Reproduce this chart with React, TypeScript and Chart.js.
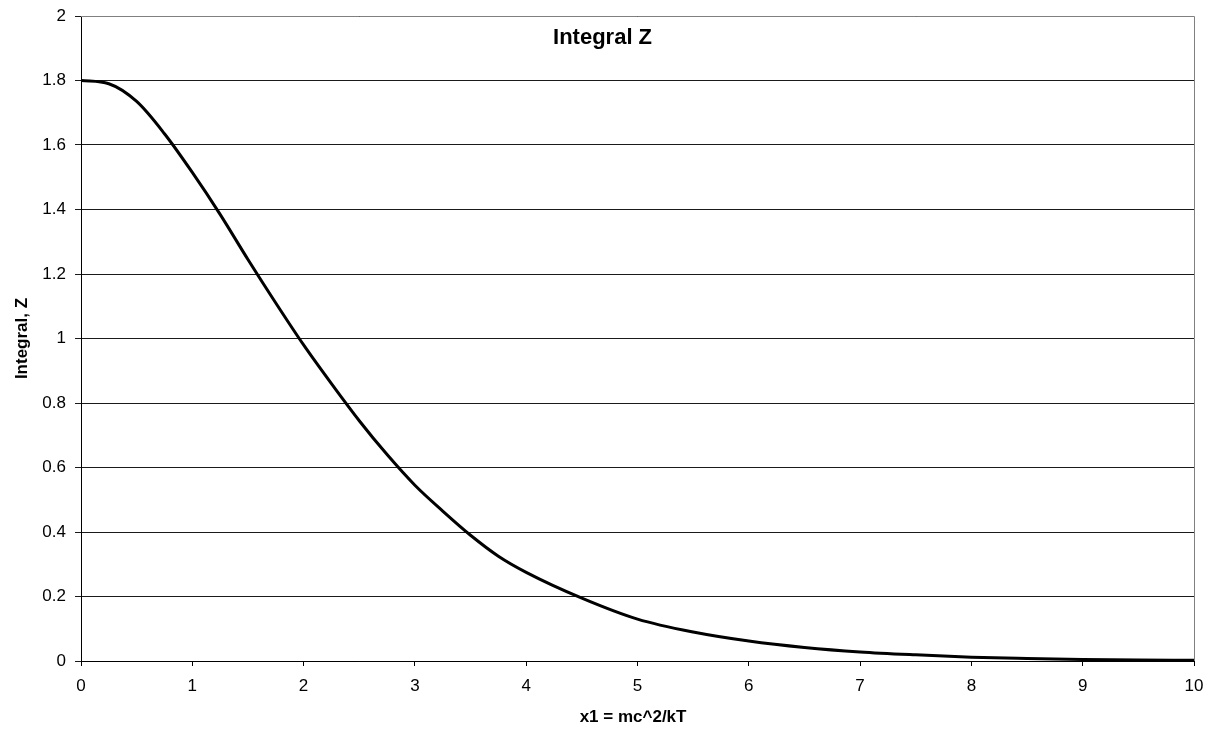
import React, { useEffect, useRef } from "react";
import { Chart, registerables } from "chart.js";

Chart.register(...registerables);

const xValues = [0, 0.25, 0.5, 0.75, 1, 1.25, 1.5, 1.75, 2, 2.25, 2.5, 2.75, 3, 3.25, 3.5, 3.75, 4, 4.5, 5, 5.5, 6, 6.5, 7, 7.5, 8, 8.5, 9, 9.5, 10];
const zValues = [1.8, 1.79, 1.735, 1.635, 1.515, 1.385, 1.245, 1.11, 0.98, 0.86, 0.745, 0.64, 0.545, 0.465, 0.39, 0.325, 0.275, 0.195, 0.13, 0.09, 0.062, 0.042, 0.028, 0.019, 0.012, 0.008, 0.005, 0.003, 0.002];
const chartTitle = "Integral Z";
const xAxisTitle = "x1 = mc^2/kT";
const yAxisTitle = "Integral, Z";

const FONT = "'Liberation Sans', Arial, sans-serif";

export default function App() {
  const ref = useRef<HTMLCanvasElement | null>(null);

  useEffect(() => {
    document.body.style.margin = "0";
    const canvas = ref.current;
    if (!canvas) return;

    const overlay = {
      id: "overlay",
      afterDraw(chart: any) {
        const { ctx, chartArea } = chart;
        const w = chartArea.right - chartArea.left;
        const h = chartArea.bottom - chartArea.top;
        ctx.save();
        ctx.strokeStyle = "#808080";
        ctx.lineWidth = 1;
        ctx.beginPath();
        ctx.moveTo(chartArea.left, chartArea.top + 0.5);
        ctx.lineTo(chartArea.right + 0.5, chartArea.top + 0.5);
        ctx.lineTo(chartArea.right + 0.5, chartArea.bottom);
        ctx.stroke();
        ctx.fillStyle = "#000";
        ctx.textAlign = "center";
        ctx.textBaseline = "middle";
        ctx.font = `bold 22px ${FONT}`;
        ctx.fillText(chartTitle, chartArea.left + w * 0.4686, chartArea.top + 22);
        ctx.font = `bold 17px ${FONT}`;
        ctx.fillText(xAxisTitle, chartArea.left + w * 0.496, chartArea.bottom + 56);
        ctx.translate(22, chartArea.top + h * 0.5);
        ctx.rotate(-Math.PI / 2);
        ctx.fillText(yAxisTitle, 0, 0);
        ctx.restore();
      },
    };

    const chart = new Chart(canvas, {
      type: "line",
      data: {
        datasets: [
          {
            data: xValues.map((x, i) => ({ x, y: zValues[i] })),
            borderColor: "#000",
            borderWidth: 3,
            pointRadius: 0,
            cubicInterpolationMode: "monotone",
            fill: false,
          },
        ],
      },
      options: {
        responsive: false,
        animation: false,
        layout: { padding: { top: 16, right: 26, left: 0, bottom: 0 } },
        plugins: { legend: { display: false }, tooltip: { enabled: false } },
        scales: {
          x: {
            type: "linear",
            min: 0,
            max: 10,
            ticks: { stepSize: 1, color: "#000", font: { family: FONT, size: 17 }, padding: 10, maxRotation: 0 },
            grid: { drawOnChartArea: false, drawTicks: true, tickLength: 5, color: "#000" },
            border: { color: "#000", width: 1 },
            afterFit(scale: any) {
              scale.height = 72;
              scale.paddingLeft = 0;
              scale.paddingRight = 0;
            },
          },
          y: {
            min: 0,
            max: 2,
            ticks: {
              stepSize: 0.2,
              color: "#000",
              font: { family: FONT, size: 17 },
              padding: 9,
              callback: (v: any) => String(Math.round(Number(v) * 10) / 10),
            },
            grid: { color: "#1a1a1a", lineWidth: 1, tickLength: 6, drawTicks: true },
            border: { color: "#000", width: 1 },
            afterFit(scale: any) {
              scale.width = 81;
              scale.paddingTop = 0;
              scale.paddingBottom = 0;
            },
          },
        },
      },
      plugins: [overlay],
    });
    return () => chart.destroy();
  }, []);

  return (
    <div style={{ width: 1220, height: 733, background: "#fff" }}>
      <canvas ref={ref} width={1220} height={733} />
    </div>
  );
}
